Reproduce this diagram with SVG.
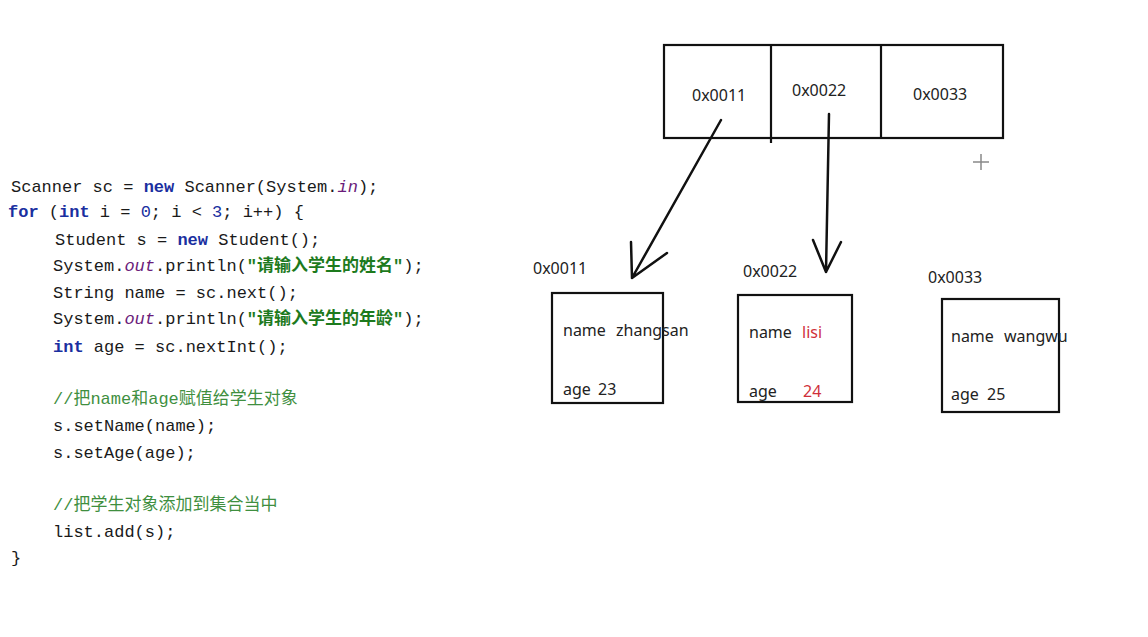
<svg xmlns="http://www.w3.org/2000/svg" width="1148" height="637" viewBox="0 0 1148 637">
<style>
.c{font-family:"Liberation Mono","Noto Sans CJK SC",monospace;font-size:17px;fill:#1a1a1a}
.k{fill:#1a2fa0;font-weight:bold}
.n{fill:#1a2fa0}
.i{fill:#6a1b7a;font-style:italic}
.s{fill:#1d7a1d;font-weight:bold}
.cm{fill:#3f8f3f}
.t{font-family:"Noto Sans","Liberation Sans",sans-serif;font-size:16px;fill:#222}
.r{fill:#d0303a}
.b{fill:none;stroke:#111;stroke-width:2.2}
.a{fill:none;stroke:#111;stroke-width:2.5;stroke-linecap:round}
</style>
<rect width="1148" height="637" fill="#fff"/>
<g id="code">
<text class="c" x="11" y="192">Scanner sc = <tspan class="k">new</tspan> Scanner(System.<tspan class="i">in</tspan>);</text>
<text class="c" x="8" y="217"><tspan class="k">for</tspan> (<tspan class="k">int</tspan> i = <tspan class="n">0</tspan>; i &lt; <tspan class="n">3</tspan>; i++) {</text>
<text class="c" x="55" y="245">Student s = <tspan class="k">new</tspan> Student();</text>
<text class="c" x="53" y="271">System.<tspan class="i">out</tspan>.println(<tspan class="s">"请输入学生的姓名"</tspan>);</text>
<text class="c" x="53" y="298">String name = sc.next();</text>
<text class="c" x="53" y="324">System.<tspan class="i">out</tspan>.println(<tspan class="s">"请输入学生的年龄"</tspan>);</text>
<text class="c" x="53" y="352"><tspan class="k">int</tspan> age = sc.nextInt();</text>
<text class="c cm" x="53" y="404">//把name和age赋值给学生对象</text>
<text class="c" x="53" y="431">s.setName(name);</text>
<text class="c" x="53" y="458">s.setAge(age);</text>
<text class="c cm" x="53" y="510">//把学生对象添加到集合当中</text>
<text class="c" x="53" y="537">list.add(s);</text>
<text class="c" x="11" y="563">}</text>
</g>
<g id="array">
<rect class="b" x="664" y="45" width="339" height="93"/>
<line class="b" x1="771" y1="45" x2="771" y2="143"/>
<line class="b" x1="881" y1="45" x2="881" y2="138"/>
<text class="t" x="692" y="101">0x0011</text>
<text class="t" x="792" y="96">0x0022</text>
<text class="t" x="913" y="100">0x0033</text>
</g>
<g id="obj1">
<text class="t" x="533" y="274">0x0011</text>
<rect class="b" x="552" y="293" width="111" height="110"/>
<text class="t" x="563" y="336">name</text>
<text class="t" x="616" y="336">zhangsan</text>
<text class="t" x="563" y="395">age</text>
<text class="t" x="598" y="395">23</text>
</g>
<g id="obj2">
<text class="t" x="743" y="277">0x0022</text>
<rect class="b" x="738" y="295" width="114" height="107"/>
<text class="t" x="749" y="338">name</text>
<text class="t r" x="802" y="338">lisi</text>
<text class="t" x="749" y="397">age</text>
<text class="t r" x="803" y="397">24</text>
</g>
<g id="obj3">
<text class="t" x="928" y="283">0x0033</text>
<rect class="b" x="942" y="299" width="117" height="113"/>
<text class="t" x="951" y="342">name</text>
<text class="t" x="1004" y="342">wangwu</text>
<text class="t" x="951" y="400">age</text>
<text class="t" x="987" y="400">25</text>
</g>
<g id="connectors">
<path class="a" d="M721 120 L632 278 M632 278 L631 242 M632 278 L667 253"/>
<path class="a" d="M829 114 L826 272 M826 272 L813 240 M826 272 L841 242"/>
</g>
<g id="cursor" stroke="#888" stroke-width="1.5">
<line x1="973" y1="162" x2="989" y2="162"/>
<line x1="981" y1="154" x2="981" y2="170"/>
</g>
</svg>
